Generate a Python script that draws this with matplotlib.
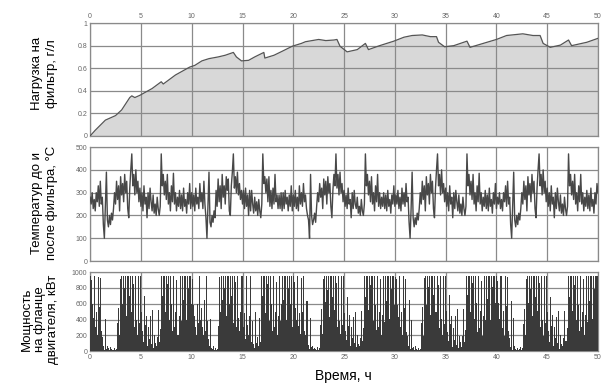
import numpy as np
import matplotlib
matplotlib.use("Agg")
import matplotlib.pyplot as plt

plt.rcParams["font.family"] = ["Liberation Sans", "DejaVu Sans"]

# Нагрузка на фильтр (точки)
load_t = [0, 0.5, 1.5, 2.5, 3.1, 3.9, 4.1, 4.4, 4.9, 6.1, 7.0, 7.2, 8.4, 9.8, 10.3,
          11.0, 11.7, 12.6, 13.3, 14.1, 14.4, 14.9, 15.6, 16.2, 17.1, 17.2, 18.1,
          18.9, 19.9, 20.8, 21.2, 22.5, 23.2, 24.0, 24.3, 24.6, 25.3, 26.3, 27.1,
          27.4, 28.5, 29.9, 30.9, 31.7, 32.7, 33.5, 34.1, 34.3, 34.9, 35.8, 37.1,
          37.4, 38.7, 40.0, 41.0, 42.6, 43.6, 44.3, 44.6, 45.3, 46.3, 47.1, 47.4,
          48.9, 50.0]
load_v = [0, 0.05, 0.14, 0.18, 0.23, 0.34, 0.355, 0.34, 0.36, 0.42, 0.48, 0.46, 0.54,
          0.61, 0.625, 0.665, 0.685, 0.70, 0.715, 0.74, 0.70, 0.665, 0.67, 0.70, 0.74,
          0.69, 0.715, 0.75, 0.795, 0.82, 0.835, 0.855, 0.845, 0.85, 0.855, 0.795,
          0.745, 0.765, 0.82, 0.765, 0.80, 0.84, 0.875, 0.89, 0.895, 0.88, 0.88, 0.83,
          0.79, 0.80, 0.84, 0.785, 0.82, 0.855, 0.89, 0.905, 0.89, 0.89, 0.82, 0.785,
          0.805, 0.85, 0.80, 0.83, 0.865]

# Температура, шаг 0.1 ч
temp = [
    280, 250, 300, 230, 270, 220, 300, 260, 330, 240,
    350, 250, 280, 160, 100, 240, 390, 180, 150, 200,
    160, 210, 180, 230, 300, 250, 350, 270, 330, 220,
    370, 290, 340, 260, 380, 300, 350, 230, 190, 320,
    400, 470, 330, 380, 290, 400, 300, 350, 260, 320,
    240, 300, 220, 330, 250, 280, 190, 300, 230, 320,
    260, 220, 290, 210, 250, 200, 280, 230, 200, 240,
    470, 330, 380, 290, 350, 270, 380, 250, 300, 220,
    330, 260, 385, 250, 300, 220, 280, 240, 310, 230,
    290, 220, 320, 240, 270, 210, 300, 250, 340, 230,
    300, 240, 290, 220, 320, 250, 280, 230, 340, 260,
    300, 230, 350, 250, 190, 100, 250, 390, 170, 150,
    200, 170, 220, 190, 310, 240, 360, 260, 330, 230,
    380, 280, 330, 250, 370, 310, 360, 220, 200, 330,
    390, 470, 320, 370, 300, 390, 290, 340, 270, 310,
    250, 310, 230, 320, 240, 290, 200, 310, 220, 310,
    250, 210, 280, 220, 260, 200, 270, 220, 190, 250,
    470, 340, 370, 300, 360, 260, 370, 240, 310, 230,
    320, 250, 380, 260, 290, 230, 290, 230, 300, 220,
    300, 230, 310, 250, 280, 220, 290, 240, 330, 220,
    290, 240, 310, 230, 280, 220, 330, 250, 300, 240,
    340, 260, 290, 230, 200, 180, 100, 380, 200, 160,
    180, 210, 170, 240, 300, 260, 340, 280, 320, 230,
    360, 290, 350, 250, 370, 300, 340, 240, 190, 310,
    380, 330, 470, 320, 380, 290, 390, 300, 340, 260,
    310, 240, 290, 230, 320, 250, 270, 190, 300, 230,
    310, 250, 230, 280, 210, 240, 200, 270, 220, 200,
    250, 470, 330, 380, 290, 350, 260, 370, 250, 300,
    220, 330, 260, 380, 240, 300, 230, 280, 240, 300,
    230, 290, 220, 310, 240, 270, 210, 290, 250, 330,
    240, 290, 250, 310, 230, 280, 220, 320, 250, 300,
    240, 340, 260, 280, 170, 100, 230, 390, 190, 150,
    190, 160, 210, 180, 230, 300, 250, 350, 270, 330,
    220, 370, 290, 340, 250, 380, 300, 350, 230, 190,
    320, 400, 470, 330, 380, 290, 400, 300, 340, 260,
    320, 240, 300, 220, 330, 250, 280, 190, 300, 230,
    310, 260, 220, 290, 210, 250, 200, 280, 230, 200,
    240, 470, 330, 380, 290, 350, 270, 380, 250, 300,
    220, 330, 260, 385, 250, 300, 220, 280, 240, 310,
    230, 290, 220, 320, 240, 270, 210, 300, 250, 340,
    230, 280, 250, 300, 230, 270, 220, 300, 260, 330,
    240, 350, 250, 280, 160, 100, 240, 390, 180, 150,
    200, 160, 210, 180, 230, 300, 250, 350, 270, 330,
    220, 370, 290, 340, 260, 380, 300, 350, 230, 190,
    320, 400, 470, 330, 380, 290, 400, 300, 350, 260,
    320, 240, 300, 220, 330, 250, 280, 190, 300, 230,
    320, 260, 220, 290, 210, 250, 200, 280, 230, 200,
    240, 470, 330, 380, 290, 350, 270, 380, 250, 300,
    220, 330, 260, 380, 250, 300, 220, 280, 240, 310,
    230, 290, 220, 320, 240, 270, 210, 300, 250, 340,
    300,
]

# Мощность, шаг 0.1 ч
power = [
    950, 900, 600, 420, 950, 300, 500, 200, 940, 560,
    930, 250, 180, 60, 20, 410, 30, 60, 40, 20,
    50, 30, 20, 40, 10, 30, 350, 550, 200, 920,
    950, 600, 950, 800, 950, 450, 950, 950, 700, 950,
    500, 950, 850, 300, 950, 400, 200, 950, 350, 950,
    500, 250, 120, 700, 330, 450, 60, 300, 150, 440,
    90, 520, 40, 200, 100, 60, 180, 520, 120, 280,
    950, 700, 950, 950, 500, 950, 850, 950, 400, 950,
    600, 250, 950, 300, 500, 900, 200, 450, 950, 380,
    950, 650, 950, 950, 400, 950, 800, 950, 950, 600,
    920, 580, 450, 300, 200, 600, 350, 950, 400, 550,
    300, 200, 650, 250, 950, 380, 150, 60, 410, 40,
    30, 60, 20, 40, 15, 30, 320, 940, 500, 950,
    650, 950, 800, 950, 450, 950, 950, 600, 950, 700,
    950, 350, 950, 880, 300, 950, 420, 250, 500, 950,
    300, 480, 150, 950, 330, 200, 450, 950, 120, 380,
    90, 40, 500, 100, 180, 60, 420, 120, 950, 700,
    950, 950, 480, 950, 850, 950, 380, 950, 600, 250,
    950, 300, 500, 880, 200, 450, 950, 380, 600, 950,
    650, 950, 950, 400, 950, 800, 950, 600, 950, 300,
    950, 880, 550, 400, 950, 320, 480, 220, 930, 500,
    950, 260, 200, 640, 80, 30, 420, 50, 60, 30,
    40, 30, 20, 50, 10, 40, 330, 540, 220, 910,
    950, 620, 950, 780, 950, 430, 950, 950, 680, 950,
    520, 950, 860, 310, 950, 380, 220, 950, 330, 950,
    480, 260, 140, 690, 320, 460, 70, 310, 160, 430,
    100, 500, 50, 210, 90, 70, 170, 510, 130, 290,
    950, 690, 950, 950, 520, 950, 840, 950, 380, 950,
    590, 270, 950, 310, 490, 910, 210, 460, 950, 370,
    950, 640, 950, 950, 410, 950, 790, 950, 950, 590,
    940, 910, 590, 430, 950, 310, 490, 210, 950, 550,
    920, 240, 190, 70, 650, 30, 400, 40, 50, 20,
    60, 30, 20, 40, 10, 30, 360, 560, 190, 930,
    950, 590, 950, 810, 950, 460, 950, 950, 710, 950,
    490, 950, 840, 290, 950, 410, 210, 950, 340, 950,
    510, 240, 130, 710, 340, 440, 50, 290, 140, 450,
    80, 530, 40, 190, 110, 50, 190, 530, 110, 270,
    950, 710, 950, 950, 490, 950, 860, 950, 410, 950,
    610, 240, 950, 290, 510, 890, 190, 440, 950, 390,
    950, 660, 950, 950, 390, 950, 810, 950, 950, 610,
    950, 890, 610, 410, 950, 290, 510, 190, 950, 570,
    940, 260, 170, 50, 630, 20, 420, 60, 30, 20,
    40, 20, 30, 50, 20, 40, 340, 540, 210, 910,
    950, 610, 950, 790, 950, 440, 950, 950, 690, 950,
    510, 950, 860, 310, 950, 390, 190, 950, 360, 950,
    490, 260, 110, 690, 320, 460, 70, 310, 160, 430,
    100, 510, 30, 210, 90, 70, 170, 510, 130, 290,
    950, 690, 950, 950, 510, 950, 840, 950, 390, 950,
    590, 260, 950, 310, 490, 910, 210, 460, 950, 370,
    950, 640, 950, 950, 410, 950, 790, 950, 950, 950,
]

x_ticks = [0, 5, 10, 15, 20, 25, 30, 35, 40, 45, 50]

temp_t = np.linspace(0, 50, len(temp))
power_t = np.linspace(0, 50, len(power) + 1)[:-1]

fig = plt.figure(figsize=(6.01, 3.85), dpi=100)
ax1 = fig.add_axes([0.150, 0.647, 0.845, 0.293])
ax2 = fig.add_axes([0.150, 0.322, 0.845, 0.296])
ax3 = fig.add_axes([0.150, 0.088, 0.845, 0.205])

grid_col = "#8a8a8a"
tick_col = "#666666"

# верхний график
ax1.fill_between(load_t, load_v, 0, color="#d8d8d8", lw=0, zorder=1)
ax1.plot(load_t, load_v, color="#555555", lw=0.9, zorder=3)
ax1.set_ylim(0, 1)
ax1.set_yticks([0, 0.2, 0.4, 0.6, 0.8, 1])
ax1.set_yticklabels(["0", "0.2", "0.4", "0.6", "0.8", "1"])
ax1.xaxis.tick_top()

# средний график
ax2.plot(temp_t, temp, color="#484848", lw=1.0, zorder=3)
ax2.set_ylim(0, 500)
ax2.set_yticks([0, 100, 200, 300, 400, 500])

# нижний график
ax3.bar(power_t, power, width=0.1, align="edge", color="#3a3a3a", lw=0, zorder=3)
ax3.set_ylim(0, 1000)
ax3.set_yticks([0, 200, 400, 600, 800, 1000])

for ax in (ax1, ax2, ax3):
    ax.set_xlim(0, 50)
    ax.set_xticks(x_ticks)
    ax.grid(True, color=grid_col, lw=0.9, zorder=2)
    ax.set_axisbelow(False)
    ax.tick_params(length=0, labelsize=5, colors=tick_col, pad=2)
    for s in ax.spines.values():
        s.set_color(grid_col)
        s.set_linewidth(0.9)

ax2.tick_params(axis="x", labelbottom=False)

fig.text(0.074, 0.81, "Нагрузка на\nфильтр, г/л", rotation=90, ha="center",
         va="center", fontsize=9.5, linespacing=1.3)
fig.text(0.074, 0.473, "Температур до и\nпосле фильтра, °С", rotation=90,
         ha="center", va="center", fontsize=9.5, linespacing=1.3)
fig.text(0.066, 0.17, "Мощность\nна фланце\nдвигателя, кВт", rotation=90,
         ha="center", va="center", fontsize=9.5, linespacing=1.1)
fig.text(0.571, 0.023, "Время, ч", ha="center", va="center", fontsize=10)

fig.savefig("out.png", dpi=100)
